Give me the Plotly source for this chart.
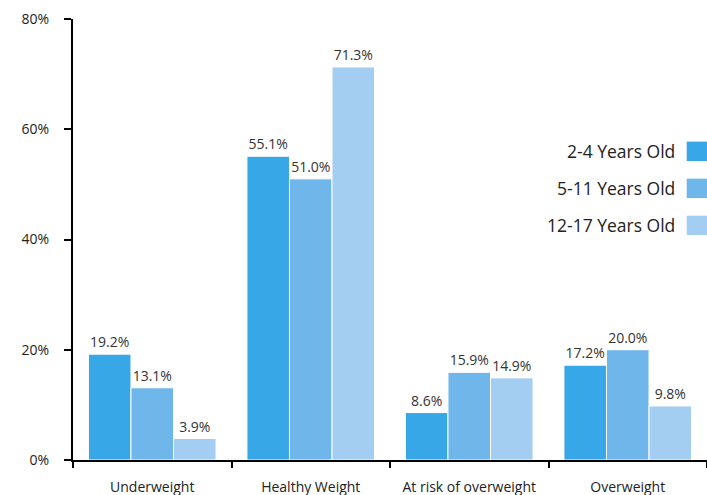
import plotly.graph_objects as go

categories = ["Underweight", "Healthy Weight", "At risk of overweight", "Overweight"]
series_names = ["2-4 Years Old", "5-11 Years Old", "12-17 Years Old"]
age_2_4 = [19.2, 55.1, 8.6, 17.2]
age_5_11 = [13.1, 51.0, 15.9, 20.0]
age_12_17 = [3.9, 71.3, 14.9, 9.8]
colors = ["#37A7E7", "#6FB6EB", "#A3CEF2"]
y_ticks = [0, 20, 40, 60, 80]
y_tick_labels = ["0%", "20%", "40%", "60%", "80%"]

FONT = "Open Sans, Lato, sans-serif"

fig = go.Figure()
for name, vals, col in zip(series_names, [age_2_4, age_5_11, age_12_17], colors):
    fig.add_trace(go.Bar(
        x=categories, y=vals, name=name,
        marker=dict(color=col, line=dict(color="white", width=1)),
        text=[f"{v:.1f}%" for v in vals], textposition="outside",
        textfont=dict(size=14, color="#333333", family=FONT),
        cliponaxis=False, showlegend=False,
    ))

# custom legend: text right-aligned, square on the right
for i, (name, col) in enumerate(zip(series_names, colors)):
    yc = 0.70 - i * 0.084
    fig.add_annotation(xref="paper", yref="paper", x=0.952, y=yc, text=name,
                       showarrow=False, xanchor="right", yanchor="middle",
                       font=dict(size=17.5, color="#222222", family=FONT))
    fig.add_shape(type="rect", xref="paper", yref="paper",
                  x0=0.968, x1=1.0, y0=yc - 0.022, y1=yc + 0.022,
                  fillcolor=col, line=dict(width=0))

fig.update_layout(
    width=707, height=495,
    margin=dict(l=73, r=0, t=19, b=35),
    paper_bgcolor="white", plot_bgcolor="white",
    barmode="group", bargap=0.195, bargroupgap=0,
    font=dict(family=FONT, size=14, color="#222222"),
)
fig.update_yaxes(range=[0, 80], tickvals=y_ticks, ticktext=y_tick_labels,
                 showgrid=False, zeroline=False, showline=True, linecolor="black",
                 linewidth=2, ticks="outside", ticklen=7, tickwidth=2, tickcolor="black",
                 ticklabelstandoff=12, tickfont=dict(size=14, color="#222222"))
fig.update_xaxes(showgrid=False, showline=True, linecolor="black", linewidth=2,
                 ticks="outside", tickson="boundaries", ticklen=6, tickwidth=2,
                 tickcolor="black", ticklabelstandoff=13,
                 tickfont=dict(size=14, color="#222222"))

fig.write_html("out.html")
